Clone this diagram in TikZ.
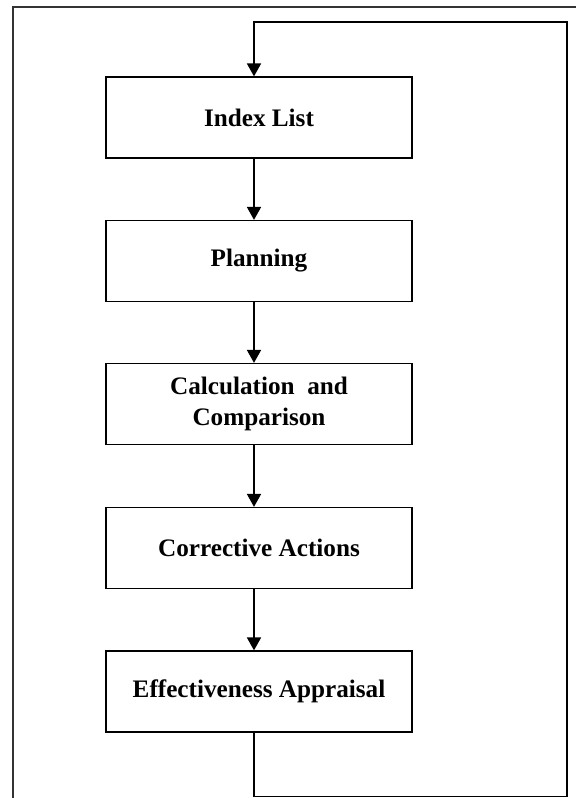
\documentclass[tikz,border=0pt]{standalone}
\usepackage{fontspec}
\setmainfont{Liberation Serif}
\usetikzlibrary{arrows.meta}
\begin{document}
\begin{tikzpicture}[x=0.03cm,y=-0.03cm]
        \tikzset{
            stepbox/.style={rectangle,draw=black,line width=1.1pt,minimum width=9.18cm,minimum height=2.43cm,
                align=center,font=\fontsize{21.5}{27}\selectfont\bfseries},
            flow/.style={line width=1.1pt,-{Triangle[width=12pt,length=11pt]}},
        }
        \useasboundingbox (0,0) rectangle (576,798);
        \draw[line width=1.1pt,draw=black!80] (13,798) |- (576,7);

        \node[stepbox] (index) at(259,117.5) {Index List};
        \node[stepbox] (plan) at(259,261) {Planning};
        \node[stepbox] (calc) at(259,404) {Calculation\ \ and\\Comparison};
        \node[stepbox] (corr) at(259,548) {Corrective Actions};
        \node[stepbox] (eff) at(259,691.5) {Effectiveness Appraisal};

        \coordinate (axis) at(254,0);
        \coordinate (lb) at(567,796.5);
        \coordinate (rt) at(567,22);

        \draw[flow] (index.south -| axis) -- (plan.north -| axis);
        \draw[flow] (plan.south -| axis) -- (calc.north -| axis);
        \draw[flow] (calc.south -| axis) -- (corr.north -| axis);
        \draw[flow] (corr.south -| axis) -- (eff.north -| axis);
        \draw[flow] (eff.south -| axis) |- (lb) -- (rt) -| (index.north -| axis);
    \end{tikzpicture}
\end{document}
